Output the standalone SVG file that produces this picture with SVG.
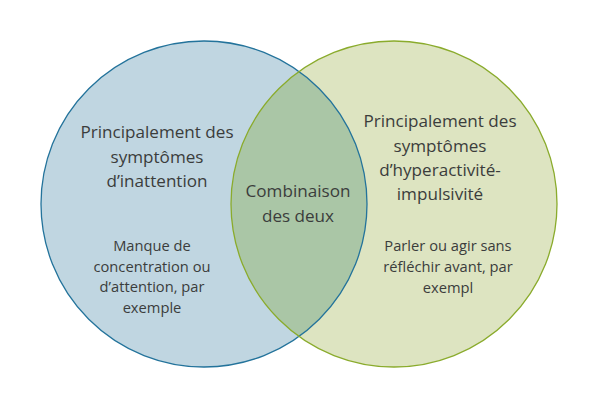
<svg xmlns="http://www.w3.org/2000/svg" width="598" height="409" viewBox="0 0 598 409">
<defs>
<clipPath id="clipR"><circle cx="394" cy="204" r="163"/></clipPath>
<style>
.t{font-family:"Open Sans","Liberation Sans",sans-serif;fill:#3b3d3c;text-anchor:middle}
.h{font-size:17.1px}
.s{font-size:14.7px}
</style>
</defs>
<rect width="598" height="409" fill="#ffffff"/>
<g id="left-circle">
<circle cx="204" cy="204" r="163" fill="#c0d6e1"/>
</g>
<g id="right-circle">
<circle cx="394" cy="204" r="163" fill="#dde4c1"/>
</g>
<g id="overlap">
<circle cx="204" cy="204" r="163" fill="#aac6a6" clip-path="url(#clipR)"/>
</g>
<g id="outlines" fill="none" stroke-width="1.3">
<circle cx="204" cy="204" r="163" stroke="#23739b"/>
<circle cx="394" cy="204" r="163" stroke="#8aab2c"/>
</g>
<g id="left-text">
<text class="t h" x="157" y="138">Principalement des</text>
<text class="t h" x="157" y="163">symptômes</text>
<text class="t h" x="157" y="187">d’inattention</text>
<text class="t s" x="152" y="251">Manque de</text>
<text class="t s" x="152" y="272">concentration ou</text>
<text class="t s" x="152" y="292">d’attention, par</text>
<text class="t s" x="152" y="313">exemple</text>
</g>
<g id="center-text">
<text class="t h" x="298" y="197">Combinaison</text>
<text class="t h" x="298" y="222">des deux</text>
</g>
<g id="right-text">
<text class="t h" x="440" y="127">Principalement des</text>
<text class="t h" x="440" y="152">symptômes</text>
<text class="t h" x="440" y="176">d’hyperactivité-</text>
<text class="t h" x="440" y="200">impulsivité</text>
<text class="t s" x="448" y="251">Parler ou agir sans</text>
<text class="t s" x="448" y="272">réfléchir avant, par</text>
<text class="t s" x="448" y="293">exempl</text>
</g>
</svg>
